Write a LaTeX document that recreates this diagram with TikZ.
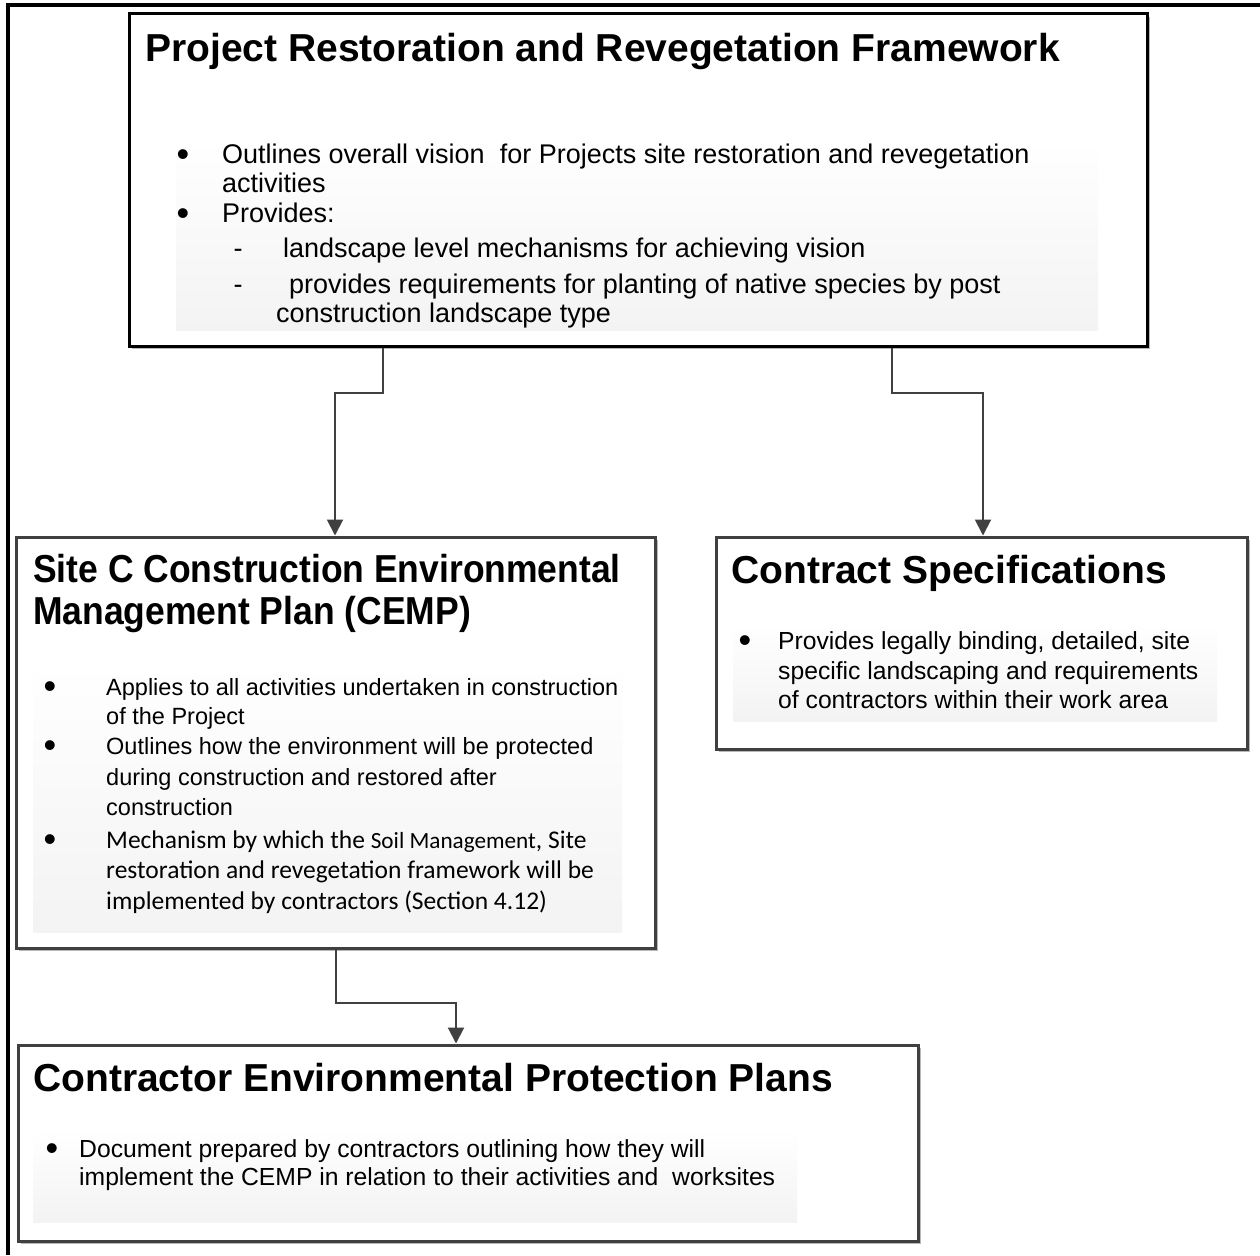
\documentclass[tikz,border=0pt]{standalone}
\usepackage{fontspec}
\setmainfont{Liberation Sans}
\newfontfamily\calibrifont{Carlito}
\newfontfamily\condfont[FakeStretch=0.91]{Liberation Sans}
\usetikzlibrary{arrows.meta,shadows}
\definecolor{edge}{RGB}{64,64,64}
\definecolor{panelgray}{RGB}{243,243,243}
\begin{document}
\begin{tikzpicture}[x=1pt,y=-1pt,
  box/.style={draw=edge, line width=3pt, fill=white, inner sep=0pt,
    drop shadow={shadow xshift=3pt, shadow yshift=-3pt, fill=black, opacity=0.28}},
  panel/.style={top color=white, bottom color=panelgray, draw=none},
  tt/.style={anchor=base west, inner sep=0pt},
  bt/.style={anchor=base, inner sep=0pt, font=\fontsize{36}{36}\selectfont},
  ttl/.style={tt, font=\bfseries\fontsize{39}{45}\selectfont},
  bodyA/.style={font=\fontsize{27}{30}\selectfont},
  bodyB/.style={font=\fontsize{23.5}{28}\selectfont},
  bodyC/.style={font=\fontsize{24.7}{28}\selectfont},
  bodyD/.style={font=\calibrifont\fontsize{25.5}{30}\selectfont},
  conn/.style={draw=edge, line width=2pt, -{Triangle[width=16pt,length=16pt]}},
  frame/.style={line width=4pt, black}
]
\useasboundingbox (0,0) rectangle (1260,1255);
\fill[white] (0,0) rectangle (1260,1255);
% page frame
\draw[frame] (8,1255) -- (8,5) -- (1260,5);

% boxes
\node[box, draw=black, minimum width=1018pt, minimum height=332pt] (top) at (638,180) {};
\node[box, minimum width=639pt, minimum height=411pt] (cemp) at (335.5,742.5) {};
\node[box, minimum width=531pt, minimum height=212pt] (spec) at (981.5,643) {};
\node[box, minimum width=900pt, minimum height=196pt] (epp) at (468,1143) {};

% panels
\fill[panel] (176,140) rectangle (1098,330);
\fill[panel] (33,662) rectangle (622,932);
\fill[panel] (733,623) rectangle (1217,721);
\fill[panel] (33,1130) rectangle (797,1222);

% connectors
\coordinate (a1) at (383,393);
\coordinate (a2) at (335,393);
\coordinate (b1) at (892,393);
\coordinate (b2) at (983,393);
\coordinate (c1) at (336,1003);
\coordinate (c2) at (456,1003);
\draw[conn] (top.south -| a1) -- (a1) -- (a2) -- (cemp.north -| a2);
\draw[conn] (top.south -| b1) -- (b1) -- (b2) -- (spec.north -| b2);
\draw[conn] (cemp.south -| c1) -- (c1) -- (c2) -- (epp.north -| c2);

% top box text
\node[ttl] (t0) at (145,62) {Project Restoration and Revegetation Framework};
\node[bt] (tb1) at (183,166) {•};
\node[tt, bodyA] (t1) at (222,163) {Outlines overall vision\ \ for Projects site restoration and revegetation};
\node[tt, bodyA] (t2) at (222,192) {activities};
\node[bt] (tb2) at (183,225) {•};
\node[tt, bodyA] (t3) at (222,222) {Provides:};
\node[anchor=base, inner sep=0pt, bodyA] (td1) at (238,257) {-};
\node[tt, bodyA] (t4) at (283,257) {landscape level mechanisms for achieving vision};
\node[anchor=base, inner sep=0pt, bodyA] (td2) at (238,293) {-};
\node[tt, bodyA] (t5) at (289,293) {provides requirements for planting of native species by post};
\node[tt, bodyA] (t6) at (276,322) {construction landscape type};

% CEMP text
\node[tt, font=\condfont\bfseries\fontsize{39}{45}\selectfont] (c0a) at (33,582) {Site C Construction Environmental};
\node[tt, font=\condfont\bfseries\fontsize{39}{45}\selectfont] (c0b) at (33,624) {Management Plan (CEMP)};
\node[bt] (cb1) at (50,698) {•};
\node[tt, bodyB] (c1t) at (106,695) {Applies to all activities undertaken in construction};
\node[tt, bodyB] (c2t) at (106,724) {of the Project};
\node[bt] (cb2) at (50,757) {•};
\node[tt, bodyB] (c3t) at (106,754) {Outlines how the environment will be protected};
\node[tt, bodyB] (c4t) at (106,785) {during construction and restored after};
\node[tt, bodyB] (c5t) at (106,815) {construction};
\node[bt] (cb3) at (50,851) {•};
\node[tt, bodyD] (c6t) at (106,848) {Mechanism by which the {\fontsize{23.2}{28}\selectfont Soil Management}, Site};
\node[tt, bodyD] (c7t) at (106,878) {restoration and revegetation framework will be};
\node[tt, bodyD] (c8t) at (106,909) {implemented by contractors (Section 4.12)};

% Contract specifications text
\node[ttl] (s0) at (731,583) {Contract Specifications};
\node[bt] (sb1) at (745,652) {•};
\node[tt, bodyC] (s1) at (778,649) {Provides legally binding, detailed, site};
\node[tt, bodyC] (s2) at (778,679) {specific landscaping and requirements};
\node[tt, bodyC] (s3) at (778,708) {of contractors within their work area};

% Contractor EPP text
\node[ttl] (e0) at (33,1091) {Contractor Environmental Protection Plans};
\node[bt] (eb1) at (52,1160) {•};
\node[tt, bodyC] (e1) at (79,1157) {Document prepared by contractors outlining how they will};
\node[tt, bodyC] (e2) at (79,1185) {implement the CEMP in relation to their activities and\ \ worksites};
\end{tikzpicture}
\end{document}
